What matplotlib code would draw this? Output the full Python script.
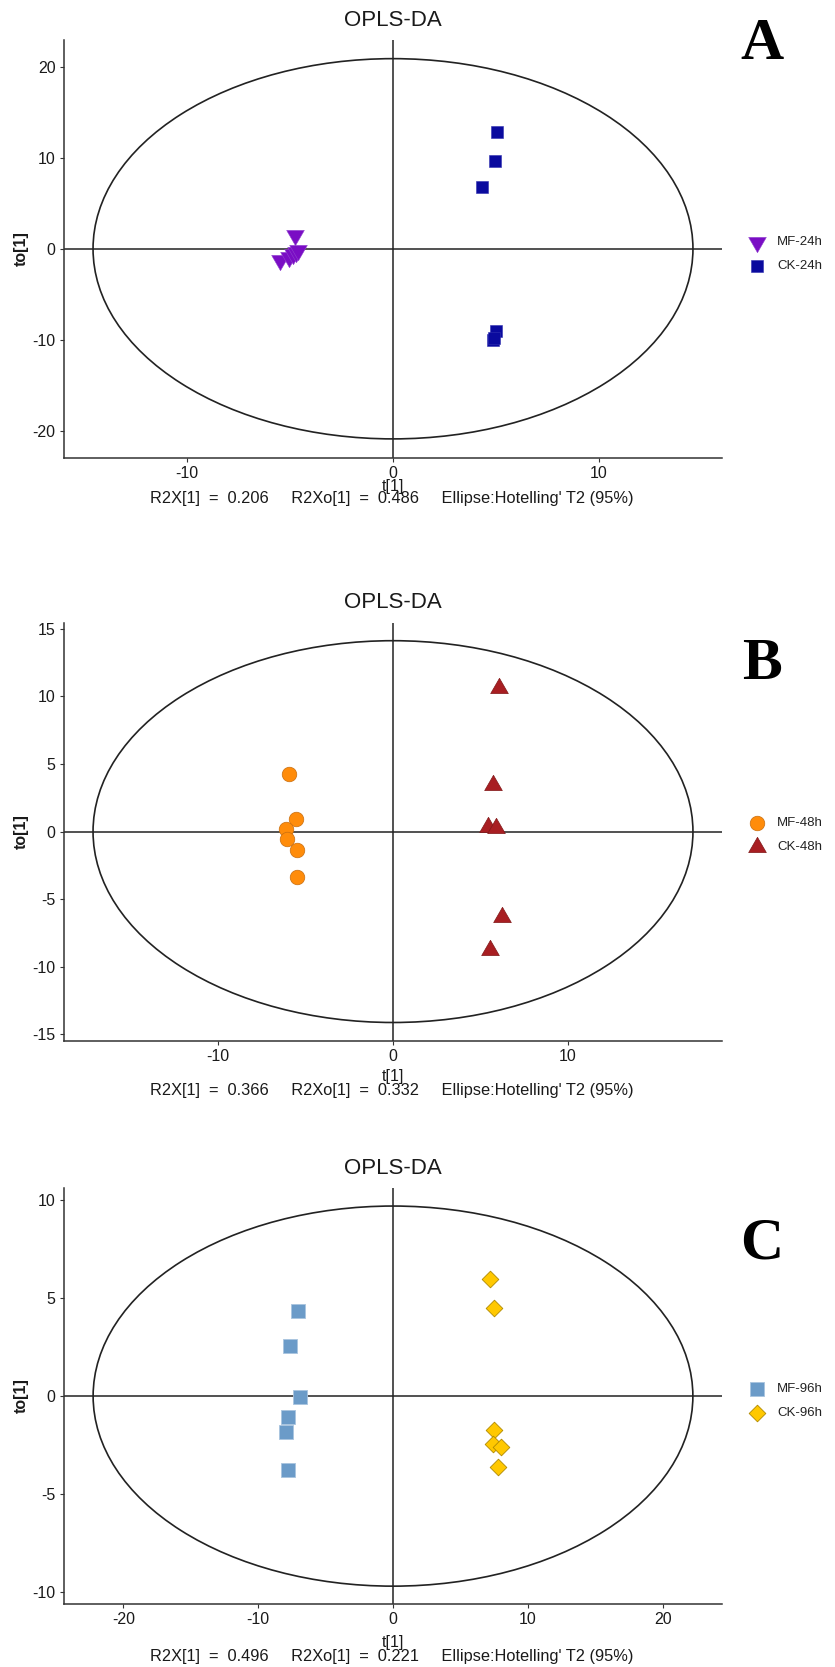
import matplotlib
matplotlib.use("Agg")
import matplotlib.pyplot as plt
from matplotlib.patches import Ellipse
from matplotlib.path import Path
import numpy as np

plt.rcParams['font.family'] = ['Liberation Sans', 'DejaVu Sans']
plt.rcParams['axes.unicode_minus'] = False

W, H = 835, 1667

# ---------------- data ----------------
panel_letters = ["A", "B", "C"]
group_labels = [["MF-24h", "CK-24h"], ["MF-48h", "CK-48h"], ["MF-96h", "CK-96h"]]
r2x = ["0.206", "0.366", "0.496"]
r2xo = ["0.486", "0.332", "0.221"]

A_mf_t = [-4.75, -5.5, -5.05, -4.85, -4.7, -4.6]
A_mf_to = [1.55, -1.2, -0.95, -0.6, -0.3, -0.1]
A_ck_t = [5.04, 4.93, 4.33, 5.0, 4.85, 4.92]
A_ck_to = [12.8, 9.6, 6.8, -9.0, -10.05, -9.8]

B_mf_t = [-5.96, -5.57, -6.12, -6.06, -5.5, -5.47]
B_mf_to = [4.28, 0.95, 0.18, -0.54, -1.36, -3.38]
B_ck_t = [6.06, 5.69, 5.41, 5.9, 6.2, 5.53]
B_ck_to = [10.6, 3.45, 0.35, 0.3, -6.3, -8.8]

C_mf_t = [-7.02, -7.62, -6.9, -7.82, -7.9, -7.82]
C_mf_to = [4.34, 2.53, -0.06, -1.09, -1.81, -3.79]
C_ck_t = [7.18, 7.46, 7.5, 7.38, 8.02, 7.82]
C_ck_to = [5.99, 4.51, -1.74, -2.46, -2.6, -3.6]

# Hotelling T2 ellipse semi-axes (t, to)
ellipse_a = [14.56, 17.14, 22.24]
ellipse_b = [20.9, 14.13, 9.69]

xlims = [(-15.97, 15.97), (-18.8, 18.8), (-24.4, 24.4)]
ylims = [(-23.0, 22.95), (-15.5, 15.44), (-10.6, 10.61)]
xticks = [[-10, 0, 10], [-10, 0, 10], [-20, -10, 0, 10, 20]]
yticks = [[-20, -10, 0, 10, 20], [-15, -10, -5, 0, 5, 10, 15], [-10, -5, 0, 5, 10]]

# ---------------- styles ----------------
tri_up = Path([(0, 1.155), (-1, -0.577), (1, -0.577), (0, 1.155)],
              [Path.MOVETO, Path.LINETO, Path.LINETO, Path.CLOSEPOLY])
tri_dn = Path([(0, -1.155), (-1, 0.577), (1, 0.577), (0, -1.155)],
              [Path.MOVETO, Path.LINETO, Path.LINETO, Path.CLOSEPOLY])

styles = [
    [dict(marker=tri_dn, s=215, c='#7A0DC4', edgecolors='#9040D0', linewidths=0.4),
     dict(marker='s', s=78, c='#0A0A9E', edgecolors='#3030B0', linewidths=0.4)],
    [dict(marker='o', s=110, c='#FF8C0A', edgecolors='#C86E10', linewidths=0.5),
     dict(marker=tri_up, s=215, c='#A81E22', edgecolors='#801818', linewidths=0.5)],
    [dict(marker='s', s=88, c='#6B9BC8', edgecolors='#A9C4DF', linewidths=0.6),
     dict(marker='D', s=72, c='#FFC800', edgecolors='#B08A00', linewidths=0.6)],
]

data = [
    ((A_mf_t, A_mf_to), (A_ck_t, A_ck_to)),
    ((B_mf_t, B_mf_to), (B_ck_t, B_ck_to)),
    ((C_mf_t, C_mf_to), (C_ck_t, C_ck_to)),
]

# layout in pixels: (left, right, top, bottom)
boxes = [(64, 722, 40, 458), (64, 722, 623, 1041), (64, 722, 1188, 1604)]
title_y = [20, 603, 1168]
tlabel_y = [486, 1076, 1642]
cap_y = [498, 1091, 1656]
legend_y = [254, 835, 1401]
letter_y = [45, 665, 1244]

fig = plt.figure(figsize=(W / 100, H / 100), dpi=100)


def fx(px):
    return px / W


def fy(py):
    return 1 - py / H


line_col = '#222222'
for i in range(3):
    l, r, t, b = boxes[i]
    ax = fig.add_axes([fx(l), fy(b), fx(r - l), (b - t) / H])
    ax.set_xlim(*xlims[i])
    ax.set_ylim(*ylims[i])
    for side in ['top', 'right']:
        ax.spines[side].set_visible(False)
    for side in ['left', 'bottom']:
        ax.spines[side].set_color('#333333')
        ax.spines[side].set_linewidth(1.1)
    ax.set_xticks(xticks[i])
    ax.set_yticks(yticks[i])
    ax.tick_params(direction='out', length=3, width=0.8, color='#333333',
                   labelsize=11.5, labelcolor='#1a1a1a', pad=3)
    ax.axhline(0, color=line_col, lw=1.1, zorder=1)
    ax.axvline(0, color=line_col, lw=1.1, zorder=1)
    ax.add_patch(Ellipse((0, 0), 2 * ellipse_a[i], 2 * ellipse_b[i], fill=False,
                         ec=line_col, lw=1.2, zorder=1))
    handles = []
    for g in range(2):
        xs, ys = data[i][g]
        h = ax.scatter(xs, ys, label=group_labels[i][g], zorder=3, **styles[i][g])
        handles.append(h)
    leg = ax.legend(handles=handles, loc='center left',
                    bbox_to_anchor=(fx(747), fy(legend_y[i])),
                    bbox_transform=fig.transFigure, frameon=False,
                    fontsize=9.5, handlelength=1.5, handletextpad=0.77,
                    labelspacing=0.9, borderpad=0, borderaxespad=0,
                    scatterpoints=1)
    for txt in leg.get_texts():
        txt.set_color('#222222')

    fig.text(fx(393), fy(title_y[i]), "OPLS-DA", ha='center', va='center',
             fontsize=16, color='#1a1a1a')
    fig.text(fx(393), fy(tlabel_y[i]), "t[1]", ha='center', va='center',
             fontsize=11.5, color='#1a1a1a')
    cap = ("R2X[1]  =  " + r2x[i] + "     R2Xo[1]  =  " + r2xo[i]
           + "     Ellipse:Hotelling' T2 (95%)")
    fig.text(fx(392), fy(cap_y[i]), cap, ha='center', va='center',
             fontsize=11.8, color='#1a1a1a')
    fig.text(fx(21), fy((t + b) / 2), "to[1]", rotation=90, ha='center',
             va='center', fontsize=11.5, fontweight='bold', color='#1a1a1a')
    fig.text(fx(762), fy(letter_y[i]), panel_letters[i], ha='center', va='center',
             fontsize=43, fontweight='bold', family='Liberation Serif', color='black')

fig.savefig("out.png", dpi=100)
